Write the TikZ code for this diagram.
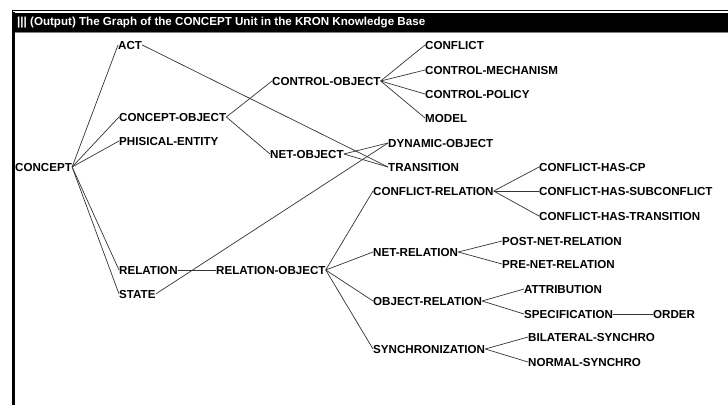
\documentclass[tikz,border=0pt]{standalone}
\usepackage{fontspec}
\setmainfont{Liberation Sans}

\tikzset{
  unit/.style={anchor=west,inner sep=0pt,text height=8pt,text depth=0pt,
    font=\fontsize{11.6}{12}\selectfont\bfseries},
  link/.style={black!80,line width=0.7pt},
}

\begin{document}
\begin{tikzpicture}[x=1pt,y=-1pt]
\useasboundingbox (0,0) rectangle (728,405);

% window
\draw[line width=0.8pt] (12.4,405) -- (12.4,10.4) -- (728,10.4);
\fill[black] (12,13) rectangle (728,32);
\draw[line width=3pt] (13.5,12) -- (13.5,405);
\draw[gray,line width=0.8pt] (15,32.6) -- (728,32.6);
\node[anchor=west,inner sep=0pt,text=white,font=\fontsize{11.6}{12}\selectfont\bfseries] (title) at (17,22.5)
  {||| (Output) The Graph of the CONCEPT Unit in the KRON Knowledge Base};

% first level
\node[unit] (concept) at (15,167) {CONCEPT};
\node[unit] (act) at (118,45) {ACT};
\node[unit] (cobj) at (119,117) {CONCEPT-OBJECT};
\node[unit] (phys) at (119,141) {PHISICAL-ENTITY};
\node[unit] (rel) at (119,270) {RELATION};
\node[unit] (state) at (119,294) {STATE};

% objects
\node[unit] (ctrlobj) at (272,81) {CONTROL-OBJECT};
\node[unit] (netobj) at (270,154) {NET-OBJECT};
\node[unit] (conflict) at (425,45) {CONFLICT};
\node[unit] (mech) at (425,70) {CONTROL-MECHANISM};
\node[unit] (policy) at (425,94) {CONTROL-POLICY};
\node[unit] (model) at (425,118) {MODEL};
\node[unit] (dyn) at (388,143) {DYNAMIC-OBJECT};
\node[unit] (trans) at (388,167) {TRANSITION};

% relations
\node[unit] (relobj) at (216,270) {RELATION-OBJECT};
\node[unit] (confrel) at (373,191) {CONFLICT-RELATION};
\node[unit] (hascp) at (539,167) {CONFLICT-HAS-CP};
\node[unit] (hassub) at (539,191) {CONFLICT-HAS-SUBCONFLICT};
\node[unit] (hastrans) at (539,216) {CONFLICT-HAS-TRANSITION};
\node[unit] (netrel) at (373,252) {NET-RELATION};
\node[unit] (postnet) at (502,241) {POST-NET-RELATION};
\node[unit] (prenet) at (502,264) {PRE-NET-RELATION};
\node[unit] (objrel) at (373,301) {OBJECT-RELATION};
\node[unit] (attrib) at (524,289) {ATTRIBUTION};
\node[unit] (spec) at (524,314) {SPECIFICATION};
\node[unit] (order) at (653,314) {ORDER};
\node[unit] (sync) at (373,349) {SYNCHRONIZATION};
\node[unit] (bilat) at (528,337) {BILATERAL-SYNCHRO};
\node[unit] (normal) at (528,362) {NORMAL-SYNCHRO};

% links
\foreach \k in {act,cobj,phys,rel,state}
  \draw[link] (concept.east) -- (\k.west);
\foreach \k in {ctrlobj,netobj}
  \draw[link] (cobj.east) -- (\k.west);
\foreach \k in {conflict,mech,policy,model}
  \draw[link] (ctrlobj.east) -- (\k.west);
\foreach \k in {dyn,trans}
  \draw[link] (netobj.east) -- (\k.west);
\draw[link] (act.east) -- (trans.west);
\draw[link] (state.east) -- (dyn.west);
\draw[link] (rel.east) -- (relobj.west);
\foreach \k in {confrel,netrel,objrel,sync}
  \draw[link] (relobj.east) -- (\k.west);
\foreach \k in {hascp,hassub,hastrans}
  \draw[link] (confrel.east) -- (\k.west);
\foreach \k in {postnet,prenet}
  \draw[link] (netrel.east) -- (\k.west);
\foreach \k in {attrib,spec}
  \draw[link] (objrel.east) -- (\k.west);
\draw[link] (spec.east) -- (order.west);
\foreach \k in {bilat,normal}
  \draw[link] (sync.east) -- (\k.west);

\end{tikzpicture}
\end{document}
